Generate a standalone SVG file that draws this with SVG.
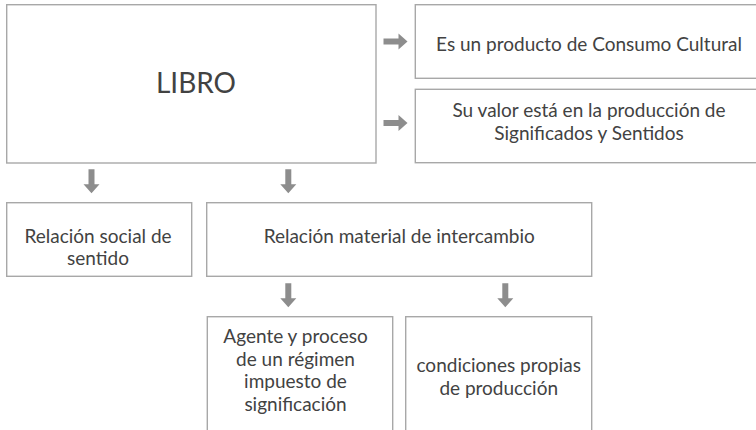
<svg xmlns="http://www.w3.org/2000/svg" xmlns:xlink="http://www.w3.org/1999/xlink" width="756" height="430" viewBox="0 0 756 430">
  <style>
    .box { fill: #ffffff; stroke: #a8a8a8; stroke-width: 1.4; }
    .t { font-family: Lato, "Liberation Sans", sans-serif; font-size: 19px; fill: #424242; text-anchor: middle; }
    .big { font-size: 28px; }
    .arrow { fill: #8d8d8d; }
  </style>
  <defs>
    <path id="arrowDown" d="M -3 0 L 3 0 L 3 15 L 8 15 L 0 24 L -8 15 L -3 15 Z"/>
    <path id="arrowRight" d="M 0 -3 L 15 -3 L 15 -8 L 24 0 L 15 8 L 15 3 L 0 3 Z"/>
  </defs>
  <rect width="756" height="430" fill="#ffffff"/>

  <g id="libro">
    <rect class="box" x="6.7" y="4.7" width="369.3" height="158.3"/>
    <text class="t big" x="196" y="92.5">LIBRO</text>
  </g>

  <g id="consumo">
    <rect class="box" x="415.3" y="4.7" width="350" height="73.6"/>
    <text class="t" x="589" y="50.5">Es un producto de Consumo Cultural</text>
  </g>

  <g id="valor">
    <rect class="box" x="415.3" y="89.3" width="350" height="73.4"/>
    <text class="t" x="589" y="116.5">Su valor está en la producción de</text>
    <text class="t" x="589" y="140">Significados y Sentidos</text>
  </g>

  <g id="social">
    <rect class="box" x="6.7" y="202.7" width="185" height="73.6"/>
    <text class="t" x="98" y="243">Relación social de</text>
    <text class="t" x="98" y="265">sentido</text>
  </g>

  <g id="material">
    <rect class="box" x="206.7" y="202.7" width="385" height="73.6"/>
    <text class="t" x="399.2" y="243">Relación material de intercambio</text>
  </g>

  <g id="agente">
    <rect class="box" x="207.3" y="316.7" width="185.4" height="130"/>
    <text class="t" x="295.5" y="343">Agente y proceso</text>
    <text class="t" x="295.5" y="365.5">de un régimen</text>
    <text class="t" x="295.5" y="388">impuesto de</text>
    <text class="t" x="295.5" y="410.5">significación</text>
  </g>

  <g id="condiciones">
    <rect class="box" x="405.7" y="316.7" width="186" height="130"/>
    <text class="t" x="498.7" y="372">condiciones propias</text>
    <text class="t" x="498.7" y="394.5">de producción</text>
  </g>

  <g id="connectors" class="arrow">
    <use xlink:href="#arrowRight" x="383.5" y="41.5"/>
    <use xlink:href="#arrowRight" x="383.5" y="123"/>
    <use xlink:href="#arrowDown" x="91.5" y="169.3"/>
    <use xlink:href="#arrowDown" x="288.3" y="169.3"/>
    <use xlink:href="#arrowDown" x="288.3" y="283.3"/>
    <use xlink:href="#arrowDown" x="505.3" y="283.3"/>
  </g>
</svg>
